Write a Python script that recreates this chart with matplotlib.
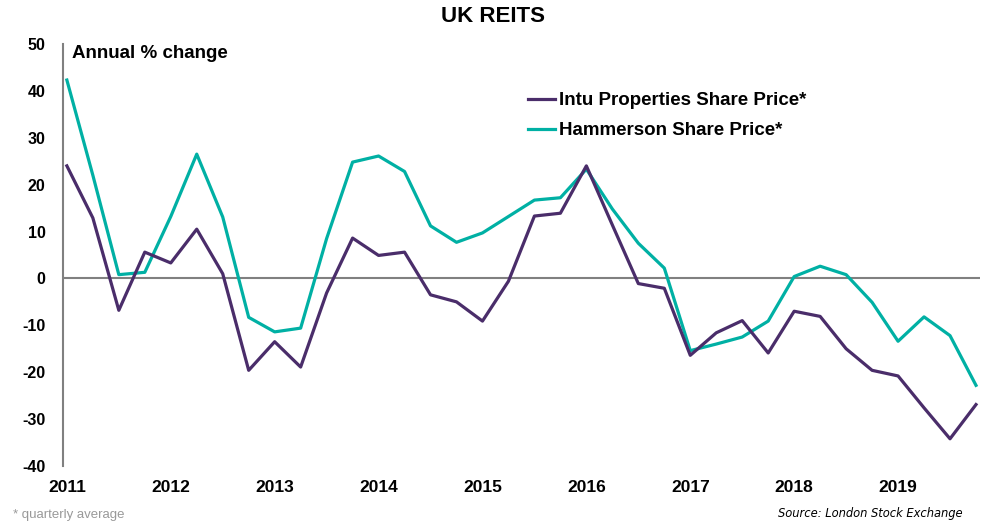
import numpy as np
import matplotlib.pyplot as plt

plt.rcParams['font.family'] = ['Liberation Sans', 'DejaVu Sans']
plt.rcParams['axes.unicode_minus'] = False

years = ['2011', '2012', '2013', '2014', '2015', '2016', '2017', '2018', '2019']

# quarterly annual % change, 2011 Q1 .. 2019 Q4
intu = [24.0, 12.9, -6.8, 5.6, 3.3, 10.5, 1.0, -19.6,
        -13.5, -18.9, -3.1, 8.6, 4.9, 5.6, -3.5, -5.0,
        -9.1, -0.6, 13.3, 13.9, 24.0, 11.4, -1.1, -2.1,
        -16.4, -11.6, -9.0, -15.9, -7.0, -8.1, -15.0, -19.6,
        -20.8, -27.6, -34.2, -26.9]
hammerson = [42.3, 22.0, 0.8, 1.3, 13.2, 26.5, 13.1, -8.3,
             -11.4, -10.6, 8.5, 24.8, 26.1, 22.8, 11.2, 7.7,
             9.7, 13.2, 16.7, 17.2, 23.3, 14.8, 7.5, 2.2,
             -15.4, -14.0, -12.5, -9.1, 0.4, 2.6, 0.8, -5.1,
             -13.4, -8.2, -12.2, -22.8]

x = np.arange(len(intu))

fig = plt.figure(figsize=(9.87, 5.23), dpi=100)
ax = fig.add_axes([0.0638, 0.109, 0.929, 0.807])

ax.axhline(0, color='#808080', lw=1.5, zorder=1)
ax.plot(x, intu, color='#4a2d6a', lw=2.3, label='Intu Properties Share Price*', zorder=3)
ax.plot(x, hammerson, color='#00b0a4', lw=2.3, label='Hammerson Share Price*', zorder=2)

ax.set_xlim(-0.15, 35.15)
ax.set_ylim(-40, 50)
ax.set_yticks(range(-40, 51, 10))
ax.set_xticks(x[::4])
ax.set_xticklabels(years)
ax.tick_params(length=0)
ax.tick_params(axis='y', pad=12.5, labelsize=11.5)
ax.tick_params(axis='x', pad=10, labelsize=12.5)
for lab in ax.get_xticklabels() + ax.get_yticklabels():
    lab.set_fontweight('bold')

for s in ['top', 'right', 'bottom']:
    ax.spines[s].set_visible(False)
ax.spines['left'].set_color('#808080')
ax.spines['left'].set_linewidth(1.5)

fig.text(72 / 987, 1 - 53 / 523, 'Annual % change', fontsize=13.5,
         fontweight='bold', va='center', ha='left')

fig.legend(loc='upper left', bbox_to_anchor=(528 / 987, 1 - 92 / 523), frameon=False,
           borderpad=0, borderaxespad=0, handlelength=1.45, handletextpad=0.2,
           labelspacing=0.7, prop={'weight': 'bold', 'size': 13.5})

fig.text(0.5, 1 - 16 / 523, 'UK REITS', ha='center', va='center', fontsize=16, fontweight='bold')
fig.text(13 / 987, 1 - 515 / 523, '* quarterly average', fontsize=9.5, color='#999999',
         ha='left', va='center')
fig.text(963 / 987, 1 - 513 / 523, 'Source: London Stock Exchange', fontsize=8.3,
         family='DejaVu Sans', style='italic', ha='right', va='center')

fig.savefig('out.png', dpi=100)
